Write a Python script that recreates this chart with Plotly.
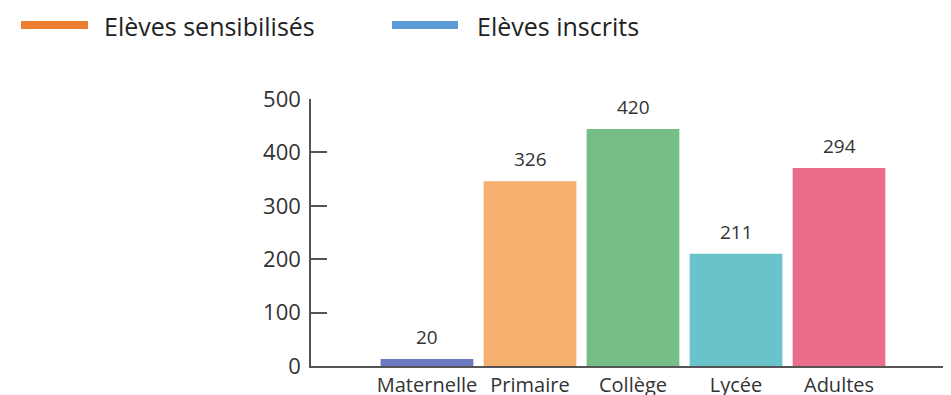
import plotly.graph_objects as go

categories = ["Maternelle", "Primaire", "Collège", "Lycée", "Adultes"]
bar_values = [13, 346, 444, 210, 371]
bar_labels = ["20", "326", "420", "211", "294"]
bar_colors = ["#6B77BF", "#F5B06F", "#75BF87", "#69C3CB", "#EA6D8B"]
y_ticks = [0, 100, 200, 300, 400, 500]
legend_names = ["Elèves sensibilisés", "Elèves inscrits"]
legend_colors = ["#ED7D31", "#5B9BD5"]

# page body has an 8px margin: figure covers the visible window area
OFF = 8
W, H = 951 - OFF, 395 - OFF
L, R, T, B = 311 - OFF, 0, 99 - OFF, H - (366 - OFF)
PW, PH = W - L - R, H - T - B
x_idx = list(range(len(categories)))

fig = go.Figure()
fig.add_trace(go.Bar(
    x=x_idx, y=bar_values, marker=dict(color=bar_colors, line=dict(width=0)),
    width=0.9, showlegend=False, hoverinfo="skip",
))

for i, (v, t) in enumerate(zip(bar_values, bar_labels)):
    fig.add_annotation(x=i, y=v, text=t, showarrow=False, yanchor="bottom",
                       yshift=7, font=dict(family="Open Sans", size=19, color="#333"))

def px_x(px):
    return (px - OFF - L) / PW

def px_y(py):
    return (H - B - (py - OFF)) / PH

# Legend drawn manually (long line swatches), reference pixel coords
leg_x = [[21, 88], [392, 458]]
leg_tx = [102, 475]
for (x0, x1), tx, name, col in zip(leg_x, leg_tx, legend_names, legend_colors):
    fig.add_shape(type="line", xref="paper", yref="paper",
                  x0=px_x(x0), x1=px_x(x1), y0=px_y(25), y1=px_y(25),
                  line=dict(color=col, width=8))
    fig.add_annotation(xref="paper", yref="paper", x=px_x(tx), y=px_y(26),
                       xanchor="left", yanchor="middle", text=name, showarrow=False,
                       font=dict(family="Open Sans", size=25, color="#222"))

fig.update_layout(
    width=W, height=H,
    margin=dict(l=L, r=R, t=T, b=B, autoexpand=False),
    paper_bgcolor="white", plot_bgcolor="white",
    bargap=0.1,
    xaxis=dict(
        range=[-1.126, 5.087],
        tickmode="array", tickvals=x_idx, ticktext=categories,
        showgrid=False, zeroline=False,
        showline=True, linecolor="#555", linewidth=1.5,
        ticks="", tickfont=dict(family="Open Sans", size=20, color="#333"),
        ticklabelstandoff=0, automargin=False,
    ),
    yaxis=dict(
        range=[0, 500],
        tickmode="array", tickvals=y_ticks,
        showgrid=False, zeroline=False,
        showline=True, linecolor="#555", linewidth=1.5,
        ticks="inside", ticklen=16, tickwidth=1.5, tickcolor="#555",
        tickfont=dict(family="Open Sans", size=22, color="#333"),
        ticklabelstandoff=4, automargin=False,
    ),
)

fig.write_html("out.html")
